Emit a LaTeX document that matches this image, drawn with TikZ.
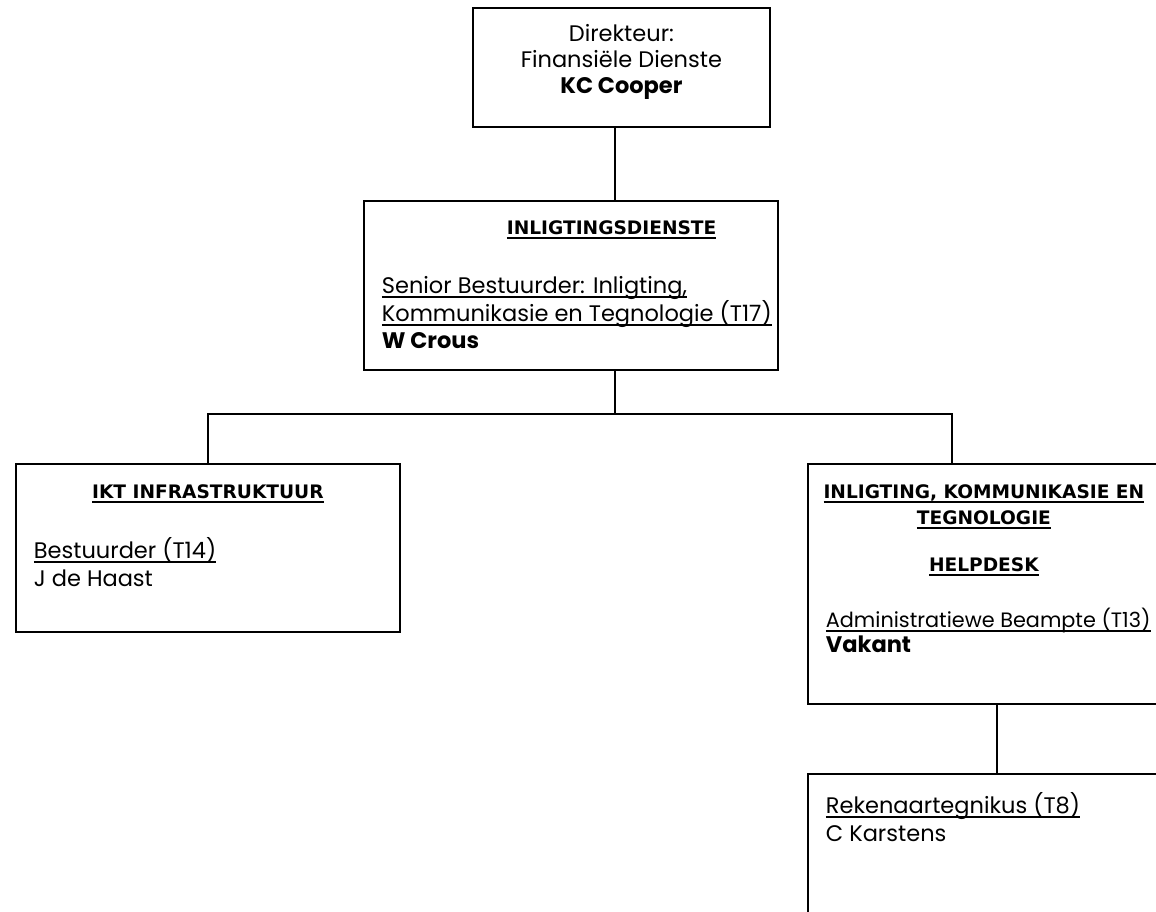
\documentclass[tikz,border=0pt]{standalone}
\usepackage{fontspec}
\setmainfont{Poppins}
\newfontfamily\headfont{DejaVu Sans}
\usepackage{tikz}
\usetikzlibrary{positioning}

\newsavebox{\ulbox}
\newcommand{\uln}[1]{\leavevmode\sbox{\ulbox}{#1}\rlap{\rule[-4pt]{\wd\ulbox}{1.6pt}}\usebox{\ulbox}}
\newcommand{\unithead}[1]{{\headfont\bfseries\fontsize{18.6}{27}\selectfont\uln{#1}}}
\newcommand{\boxbody}[3]{\parbox[c][#2][t]{#1}{\raggedright #3}}

\begin{document}
\begin{tikzpicture}[x=1pt, y=-1pt]
\tikzstyle{post} = [rectangle, draw, line width=1.8pt, anchor=north west, inner xsep=18pt, inner ysep=0pt, font=\fontsize{22.5}{27}\selectfont]
\tikzstyle{link} = [line width=1.8pt]

\useasboundingbox (0,0) rectangle (1156,912);

% posts
\node (direkteur) [post, inner xsep=0pt, font=\fontsize{22.5}{26}\selectfont] at (472,7) {\boxbody{297pt}{119pt}{\centering\vspace*{16pt}Direkteur:\\Finansiële Dienste\\\textbf{KC Cooper}}};
\node (dienste) [post] at (363,200) {\boxbody{378pt}{169pt}{\vspace*{20pt}\hspace*{125pt}\unithead{INLIGTINGSDIENSTE}\\[32pt]
  \uln{Senior Bestuurder: Inligting,}\\
  \uln{Kommunikasie en Tegnologie (T17)}\\
  \textbf{W Crous}}};
\node (ikt) [post] at (15,463) {\boxbody{348pt}{168pt}{\vspace*{21pt}\makebox[\linewidth]{\unithead{IKT INFRASTRUKTUUR}}\\[33pt]
  \uln{Bestuurder (T14)}\\[1pt]
  J de Haast}};
\node (helpdesk) [post] at (807,463) {\boxbody{316pt}{240pt}{\vspace*{21pt}\makebox[\linewidth]{\unithead{INLIGTING, KOMMUNIKASIE EN}}\\[-1pt]
  \makebox[\linewidth]{\unithead{TEGNOLOGIE}}\\[20pt]
  \makebox[\linewidth]{\unithead{HELPDESK}}\\[29pt]
  {\fontsize{20.8}{27}\selectfont\uln{Administratiewe Beampte (T13)}}\\[-2pt]
  \textbf{Vakant}}};
\node (tegnikus) [post, below=68pt of helpdesk.south west, anchor=north west] {\boxbody{316pt}{190pt}{\vspace*{19pt}\uln{Rekenaartegnikus (T8)}\\[1pt]
  C Karstens}};

% lines
\coordinate (spine) at (615,414);
\coordinate (icttap) at (952,414);
\coordinate (techtap) at (997,0);

\draw [link] (direkteur.south -| spine) -- (dienste.north -| spine);
\draw [link] (dienste.south -| spine) -- (spine);
\draw [link] (ikt.north) |- (spine) -- (icttap) -- (icttap |- helpdesk.north);
\draw [link] (helpdesk.south -| techtap) -- (tegnikus.north -| techtap);

\end{tikzpicture}
\end{document}
